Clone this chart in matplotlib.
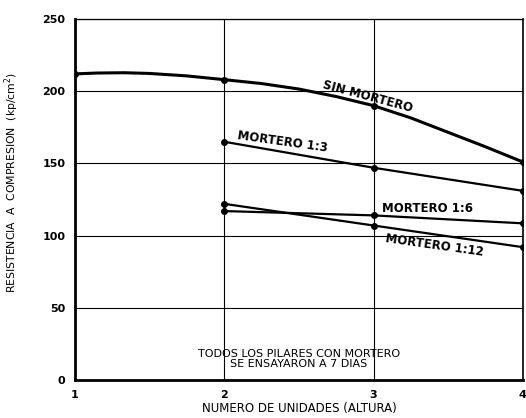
import matplotlib
matplotlib.use("Agg")
import matplotlib.pyplot as plt

# puntos medidos (con marcador)
unidades = [1, 2, 3, 4]
sin_mortero = [212, 208, 190, 151]
unidades_m = [2, 3, 4]
mortero_1_3 = [165, 147, 131]
mortero_1_6 = [117, 114, 108.5]
mortero_1_12 = [122, 107, 92]

# trazado de la curva "sin mortero"
curva_x = [1, 1.15, 1.33, 1.5, 1.75, 2, 2.25, 2.5, 2.75, 3, 3.25, 3.5, 3.75, 4]
curva_y = [212, 212.6, 212.8, 212.3, 210.6, 208, 205.3, 201.5, 196.3, 190, 181.5, 171.5, 161.5, 151]

plt.rcParams['font.family'] = ['DejaVu Sans']

fig = plt.figure(figsize=(5.26, 4.18), dpi=100)
ax = fig.add_axes([0.1426, 0.0909, 0.8514, 0.8636])

ax.plot(curva_x, curva_y, color='black', lw=2.2)
ax.plot(unidades, sin_mortero, 'o', color='black', ms=4)
for serie in (mortero_1_3, mortero_1_6, mortero_1_12):
    ax.plot(unidades_m, serie, '-o', color='black', lw=1.6, ms=4)

ax.set_xlim(1, 4)
ax.set_ylim(0, 250)
ax.set_xticks([1, 2, 3, 4])
ax.set_yticks([0, 50, 100, 150, 200, 250])
ax.grid(True, color='black', lw=0.8)
ax.tick_params(length=0, labelsize=8, pad=7)
for lab in ax.get_xticklabels() + ax.get_yticklabels():
    lab.set_fontweight('bold')

ax.spines['left'].set_linewidth(2.0)
ax.spines['bottom'].set_linewidth(2.0)
ax.spines['top'].set_linewidth(0.9)
ax.spines['right'].set_linewidth(1.2)

ax.set_xlabel('NUMERO DE UNIDADES (ALTURA)', fontsize=8.5)
ax.xaxis.set_label_coords(0.5, -0.062)
ax.set_ylabel('RESISTENCIA  A  COMPRESION  (kp/cm$^2$)', fontsize=7.8)
ax.yaxis.set_label_coords(-0.12, 0.546)

ax.text(2.96, 196, 'SIN MORTERO', fontsize=8.5, fontweight='bold', rotation=-15,
        ha='center', va='center')
ax.text(2.39, 165, 'MORTERO 1:3', fontsize=8.5, fontweight='bold', rotation=-8,
        ha='center', va='center')
ax.text(3.36, 119, 'MORTERO 1:6', fontsize=8.5, fontweight='bold', rotation=0,
        ha='center', va='center')
ax.text(3.41, 93.5, 'MORTERO 1:12', fontsize=8.5, fontweight='bold', rotation=-8,
        ha='center', va='center')
ax.text(2.5, 14.5, 'TODOS LOS PILARES CON MORTERO\nSE ENSAYARON A 7 DIAS',
        fontsize=8, ha='center', va='center', linespacing=0.95)

fig.savefig('out.png', dpi=100)
